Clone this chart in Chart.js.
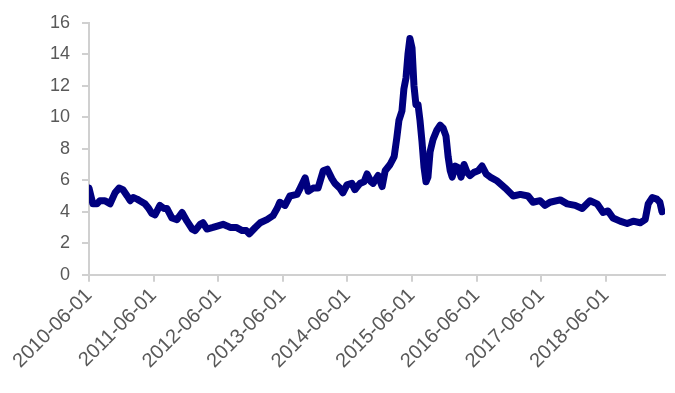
<!DOCTYPE html>
<html>
<head>
<meta charset="utf-8">
<script src="https://cdn.jsdelivr.net/npm/chart.js@4.4.1/dist/chart.umd.min.js"></script>
<style>
  html, body { margin: 0; padding: 0; background: #fff; }
  #wrap { width: 675px; height: 393px; }
</style>
</head>
<body>
<div id="wrap"><canvas id="chart"></canvas></div>
<script>
// dates and values
const dates = [
  "2010-06-01","2010-06-12","2010-06-23","2010-07-16","2010-08-02","2010-08-30","2010-09-28","2010-10-26",
  "2010-11-18","2010-12-10","2011-01-03","2011-01-20","2011-02-06","2011-02-28","2011-03-15","2011-04-13",
  "2011-05-05","2011-05-22","2011-06-09","2011-07-07","2011-07-30","2011-08-16","2011-09-13","2011-10-11",
  "2011-11-09","2011-12-07","2012-01-05","2012-01-22","2012-02-19","2012-03-06","2012-03-29","2012-05-02",
  "2012-05-31","2012-06-28","2012-07-20","2012-08-07","2012-09-10","2012-10-14","2012-11-06","2012-11-23",
  "2012-12-27","2013-01-24","2013-03-03","2013-04-06","2013-04-29","2013-05-15","2013-06-13","2013-07-11",
  "2013-08-20","2013-09-07","2013-10-05","2013-10-22","2013-11-19","2013-12-17","2014-01-15","2014-02-07",
  "2014-03-05","2014-03-22","2014-04-19","2014-05-06","2014-05-29","2014-06-26","2014-07-13","2014-08-11",
  "2014-09-03","2014-09-20","2014-10-12","2014-10-24","2014-11-21","2014-12-14","2014-12-31","2015-01-28",
  "2015-02-20","2015-03-07","2015-03-19","2015-04-05","2015-04-16","2015-04-28","2015-05-09","2015-05-20",
  "2015-06-01","2015-06-12","2015-06-23","2015-07-05","2015-07-16","2015-07-27","2015-08-08","2015-08-19",
  "2015-08-30","2015-09-11","2015-09-28","2015-10-20","2015-11-07","2015-11-24","2015-12-10","2015-12-22",
  "2016-01-03","2016-01-14","2016-01-31","2016-02-17","2016-03-04","2016-03-21","2016-04-07","2016-04-24",
  "2016-05-16","2016-06-09","2016-07-01","2016-07-24","2016-08-16","2016-09-25","2016-11-09","2016-12-24",
  "2017-02-02","2017-03-18","2017-04-15","2017-05-25","2017-06-22","2017-07-20","2017-09-16","2017-10-25",
  "2017-12-09","2018-01-18","2018-03-03","2018-04-12","2018-05-16","2018-06-13","2018-07-11","2018-08-20",
  "2018-09-29","2018-11-02","2018-12-12","2019-01-09","2019-01-26","2019-02-18","2019-03-16","2019-04-02",
  "2019-04-14"
];
const values = [
  5.5, 5.0, 4.5, 4.5, 4.7, 4.7, 4.5, 5.2,
  5.5, 5.4, 5.0, 4.7, 4.9, 4.8, 4.7, 4.5,
  4.2, 3.9, 3.8, 4.4, 4.2, 4.2, 3.6, 3.5,
  3.95, 3.4, 2.9, 2.8, 3.2, 3.3, 2.9, 3.0,
  3.1, 3.2, 3.1, 3.0, 3.0, 2.8, 2.8, 2.6,
  3.0, 3.3, 3.5, 3.75, 4.2, 4.6, 4.4, 5.0,
  5.1, 5.5, 6.15, 5.3, 5.5, 5.5, 6.6, 6.7,
  6.1, 5.8, 5.5, 5.2, 5.7, 5.8, 5.4, 5.8,
  5.9, 6.4, 5.9, 5.8, 6.3, 5.6, 6.6, 7.0,
  7.5, 8.7, 9.8, 10.4, 11.8, 12.5, 14.0, 15.0,
  14.4, 12.0, 10.8, 10.8, 9.8, 8.5, 6.8, 5.9,
  6.2, 7.8, 8.6, 9.2, 9.5, 9.3, 8.8, 7.5,
  6.6, 6.2, 6.9, 6.8, 6.2, 7.0, 6.5, 6.3,
  6.5, 6.6, 6.9, 6.4, 6.2, 5.95, 5.5, 5.0,
  5.1, 5.0, 4.6, 4.7, 4.4, 4.6, 4.75, 4.5,
  4.4, 4.2, 4.7, 4.5, 3.95, 4.05, 3.6, 3.4,
  3.25, 3.4, 3.3, 3.5, 4.5, 4.9, 4.8, 4.6,
  4.0
];
const tickLabels = [
  "2010-06-01","2011-06-01","2012-06-01","2013-06-01","2014-06-01",
  "2015-06-01","2016-06-01","2017-06-01","2018-06-01"
];
const axisStart = "2010-06-01";
const axisEnd = "2019-05-01";

const dayOf = (d) => (Date.parse(d) - Date.parse(axisStart)) / 86400000;
const points = dates.map((d, i) => ({ x: dayOf(d), y: values[i] }));

const grey = "#595959";
const axisGrey = "#d0d0d0";

new Chart(document.getElementById("chart"), {
  type: "line",
  data: {
    datasets: [{
      data: points,
      borderColor: "#00007f",
      borderWidth: 7,
      pointRadius: 0,
      tension: 0,
      borderJoinStyle: "round",
      borderCapStyle: "round",
      fill: false
    }]
  },
  options: {
    responsive: true,
    maintainAspectRatio: false,
    animation: false,
    layout: { padding: { top: 20, right: 10, left: 0, bottom: 18 } },
    plugins: { legend: { display: false }, tooltip: { enabled: false } },
    scales: {
      x: {
        type: "linear",
        min: 0,
        max: dayOf(axisEnd),
        afterBuildTicks: (scale) => {
          scale.ticks = tickLabels.map((t) => ({ value: dayOf(t) }));
        },
        ticks: {
          autoSkip: false,
          minRotation: 45,
          maxRotation: 45,
          color: grey,
          font: { family: "Liberation Sans", size: 20 },
          padding: 2,
          callback: (value, index) => tickLabels[index]
        },
        grid: { drawOnChartArea: false, tickLength: 7, color: axisGrey, lineWidth: 2 },
        border: { color: axisGrey, width: 2 }
      },
      y: {
        min: 0,
        max: 16,
        afterFit: (scale) => { scale.width = 89; },
        ticks: {
          stepSize: 2,
          color: grey,
          font: { family: "Liberation Sans", size: 18 },
          padding: 12
        },
        grid: { drawOnChartArea: false, tickLength: 7, color: axisGrey, lineWidth: 2 },
        border: { color: axisGrey, width: 2 }
      }
    }
  }
});
</script>
</body>
</html>
